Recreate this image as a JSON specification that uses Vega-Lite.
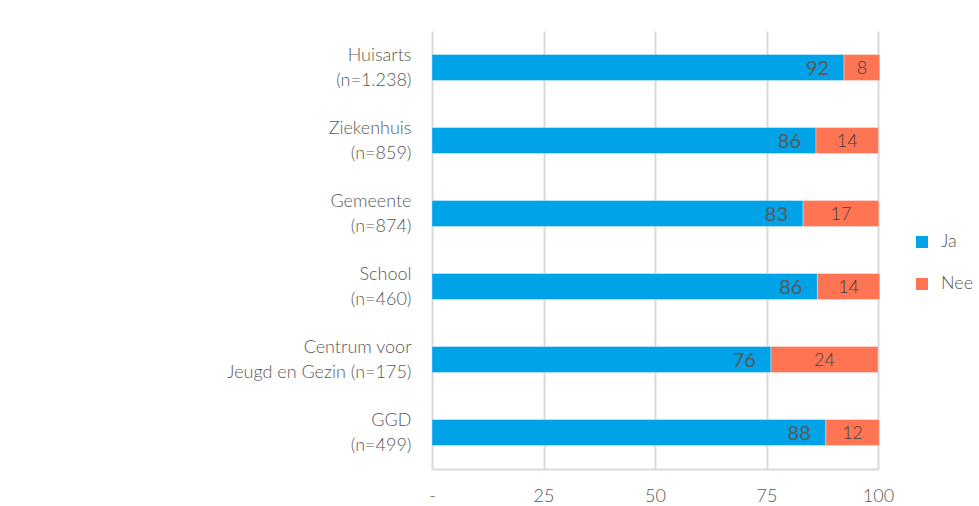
{
  "$schema": "https://vega.github.io/schema/vega-lite/v6.json",
  "autosize": {"type": "none"},
  "width": 446,
  "height": 438,
  "padding": {"left": 432, "top": 31, "right": 101, "bottom": 37},
  "background": "#ffffff",
  "config": {
    "view": {"stroke": null},
    "font": "Lato",
    "axis": {"labelFont": "Lato", "labelFontWeight": 300, "labelColor": "#595959"},
    "legend": {"labelFont": "Lato", "labelFontWeight": 300, "labelColor": "#595959"}
  },
  "data": {
    "values": [
      {"cat": "Huisarts|(n=1.238)", "answer": "Ja", "value": 92.4},
      {"cat": "Huisarts|(n=1.238)", "answer": "Nee", "value": 8},
      {"cat": "Ziekenhuis|(n=859)", "answer": "Ja", "value": 86.1},
      {"cat": "Ziekenhuis|(n=859)", "answer": "Nee", "value": 14},
      {"cat": "Gemeente|(n=874)", "answer": "Ja", "value": 83.2},
      {"cat": "Gemeente|(n=874)", "answer": "Nee", "value": 17},
      {"cat": "School|(n=460)", "answer": "Ja", "value": 86.4},
      {"cat": "School|(n=460)", "answer": "Nee", "value": 14},
      {"cat": "Centrum voor|Jeugd en Gezin (n=175)", "answer": "Ja", "value": 76},
      {"cat": "Centrum voor|Jeugd en Gezin (n=175)", "answer": "Nee", "value": 24},
      {"cat": "GGD|(n=499)", "answer": "Ja", "value": 88.3},
      {"cat": "GGD|(n=499)", "answer": "Nee", "value": 12}
    ]
  },
  "encoding": {
    "y": {
      "field": "cat",
      "type": "nominal",
      "sort": null,
      "scale": {"paddingInner": 0, "paddingOuter": 0},
      "title": null,
      "axis": {
        "labelExpr": "split(datum.label, '|')",
        "labelFontSize": 18,
        "labelLineHeight": 25,
        "labelPadding": 21,
        "labelOffset": -12,
        "labelLimit": 400,
        "ticks": false,
        "domain": false,
        "labelAlign": "right"
      }
    }
  },
  "layer": [
    {
      "mark": {"type": "bar", "size": 26, "stroke": "#ffffff", "strokeOpacity": 0.35, "strokeWidth": 1},
      "encoding": {
        "x": {
          "field": "value",
          "type": "quantitative",
          "stack": "zero",
          "scale": {"domain": [0, 100], "nice": false},
          "title": null,
          "axis": {
            "values": [0, 25, 50, 75, 100],
            "labelExpr": "datum.value === 0 ? '-' : datum.label",
            "labelFontSize": 18,
            "labelPadding": 18,
            "labelFlush": false,
            "labelOverlap": false,
            "ticks": false,
            "domain": true,
            "domainColor": "#d9d9d9",
            "domainWidth": 2,
            "grid": true,
            "gridColor": "#d9d9d9",
            "gridWidth": 2
          }
        },
        "color": {
          "field": "answer",
          "type": "nominal",
          "scale": {"domain": ["Ja", "Nee"], "range": ["#00A2E8", "#FF7452"]},
          "legend": {
            "title": null,
            "orient": "none",
            "legendX": 481,
            "legendY": 202,
            "symbolType": "square",
            "symbolSize": 144,
            "symbolStrokeWidth": 0,
            "labelFontSize": 18,
            "labelOffset": 10,
            "rowPadding": 24
          }
        }
      }
    },
    {
      "transform": [{"filter": "datum.answer === 'Ja'"}],
      "mark": {"type": "text", "align": "right", "baseline": "middle", "dx": -15, "dy": 1, "fontSize": 20, "font": "Lato", "fontWeight": 400, "color": "#595959"},
      "encoding": {
        "x": {"field": "value", "type": "quantitative"},
        "text": {"field": "value", "type": "quantitative", "format": ".0f"}
      }
    },
    {
      "transform": [
        {"stack": "value", "groupby": ["cat"], "sort": [{"field": "answer", "order": "ascending"}], "as": ["v0", "v1"]},
        {"filter": "datum.answer === 'Nee'"},
        {"fold": ["v0", "v1"], "as": ["edge", "pos"]}
      ],
      "mark": {"type": "text", "align": "center", "baseline": "middle", "dy": 1, "fontSize": 18, "font": "Lato", "fontWeight": 300, "color": "#404040"},
      "encoding": {
        "x": {"aggregate": "mean", "field": "pos", "type": "quantitative"},
        "text": {"aggregate": "max", "field": "value", "type": "quantitative", "format": ".0f"}
      }
    }
  ]
}
